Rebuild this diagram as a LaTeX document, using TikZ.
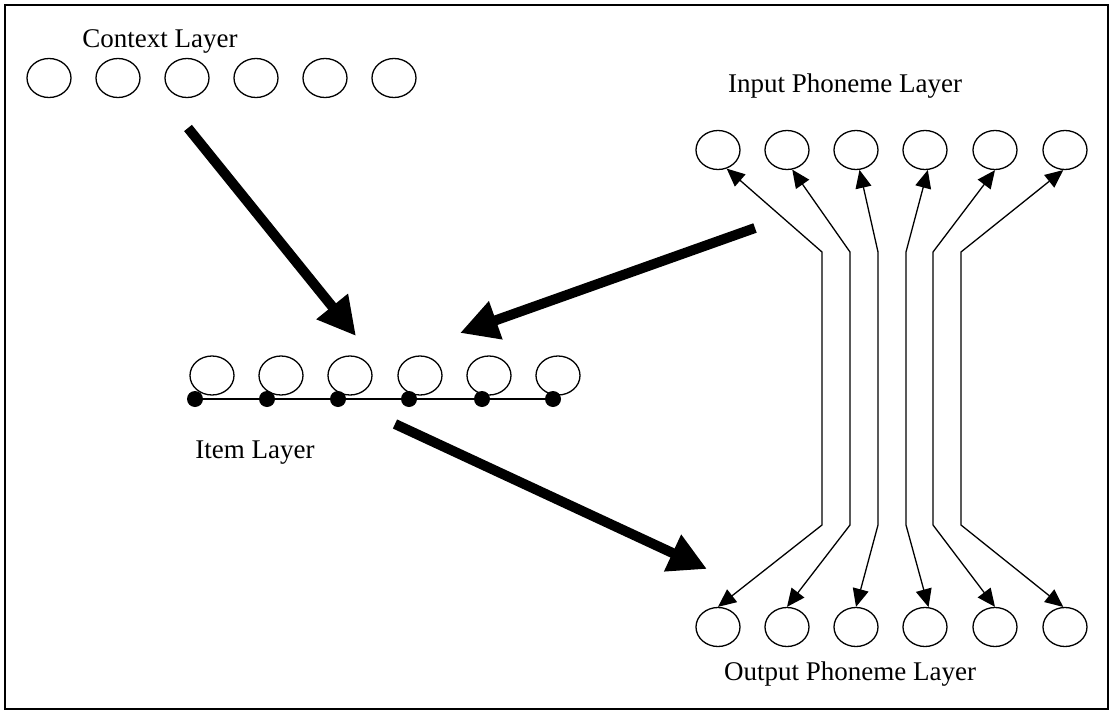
\documentclass[tikz,border=0pt]{standalone}
\usepackage{fontspec}
\setmainfont{Liberation Serif}
\usetikzlibrary{arrows.meta,shapes.geometric}
\begin{document}
\begin{tikzpicture}[x=1pt,y=-1pt,
  unit/.style={draw,ellipse,minimum width=44pt,minimum height=39pt,inner sep=0pt,line width=1.3pt},
  dotnode/.style={fill,circle,minimum size=16pt,inner sep=0pt},
  lbl/.style={font=\fontsize{27}{32}\selectfont,inner sep=0pt,anchor=base},
  conn/.style={line width=1.3pt,{Triangle[length=18pt,width=16pt]}-{Triangle[length=18pt,width=16pt]}},
  big/.style={line width=10pt,-{Triangle[length=38pt,width=38pt]}}]
\useasboundingbox (0,0) rectangle (1112,712);
\draw[line width=2pt] (5,5) rectangle (1108,709);
% layers
\foreach \i/\x in {1/49,2/118,3/187,4/256,5/325,6/394}
  \node[unit] (c\i) at (\x,78) {};
\foreach \i/\x in {1/718,2/787,3/856,4/925,5/995,6/1065}
  \node[unit] (in\i) at (\x,150) {};
\foreach \i/\x in {1/718,2/787,3/856,4/925,5/995,6/1065}
  \node[unit] (out\i) at (\x,627) {};
\foreach \i/\x in {1/212,2/281,3/350,4/420,5/489,6/558}
  \node[unit] (it\i) at (\x,375.5) {};
\foreach \i/\x in {1/195,2/267,3/338,4/409,5/482,6/553}
  \node[dotnode] (d\i) at (\x,399) {};
\draw[line width=1.3pt] (d1.center) -- (d6.center);
% labels
\node[lbl] (tctx) at (160,47) {Context Layer};
\node[lbl] (tin) at (845,92) {Input Phoneme Layer};
\node[lbl] (titem) at (255,458) {Item Layer};
\node[lbl] (tout) at (850,680) {Output Phoneme Layer};
% phoneme connectors
\foreach \i/\x/\a/\b in {1/822/-65/90,2/850/-75/90,3/878/-80/90,4/906/-82/80,5/933/-90/90,6/961/-95/95} {
  \coordinate (u\i) at (\x,252);
  \coordinate (l\i) at (\x,525);
  \draw[conn] (in\i.\a) -- (u\i) -- (l\i) -- (out\i.\b);
}
% big arrows
\coordinate (a1s) at (188,128); \coordinate (a1e) at (356,336);
\coordinate (a2s) at (755,228); \coordinate (a2e) at (460,333);
\coordinate (a3s) at (395,424); \coordinate (a3e) at (707,569);
\draw[big] (a1s) -- (a1e);
\draw[big] (a2s) -- (a2e);
\draw[big] (a3s) -- (a3e);
\end{tikzpicture}
\end{document}
